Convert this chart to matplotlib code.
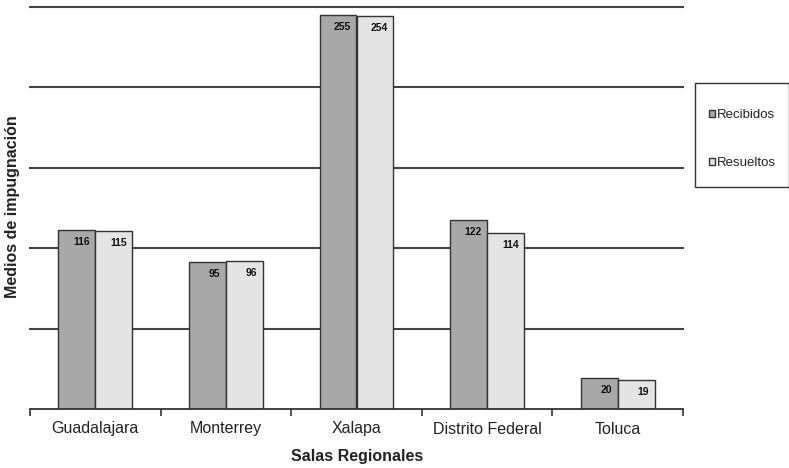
import matplotlib.pyplot as plt
from matplotlib.patches import Rectangle
import numpy as np

plt.rcParams['font.family'] = ['Liberation Sans', 'DejaVu Sans']

salas = ['Guadalajara', 'Monterrey', 'Xalapa', 'Distrito Federal', 'Toluca']
recibidos = [116, 95, 255, 122, 20]
resueltos = [115, 96, 254, 114, 19]

W, H = 789, 468
fig = plt.figure(figsize=(W / 100, H / 100), dpi=100)
# axes box in pixels: left 30, right 683, top 7, bottom 409
ax = fig.add_axes([30 / W, 1 - 409 / H, (683 - 30) / W, (409 - 7) / H])

x = np.arange(len(salas))
bw = 0.283
ymax = 260

ax.set_xlim(-0.5, len(salas) - 0.5)
ax.set_ylim(0, ymax)

for yg in np.linspace(ymax / 5, ymax, 5):
    ax.axhline(yg, color='#444444', lw=1.5, zorder=1, clip_on=False)

b1 = ax.bar(x - bw / 2, recibidos, bw, color='#a8a8a8', edgecolor='#333333',
            lw=1.0, zorder=2, label='Recibidos')
b2 = ax.bar(x + bw / 2, resueltos, bw, color='#e4e4e4', edgecolor='#333333',
            lw=1.0, zorder=2, label='Resueltos')

for bars, vals in ((b1, recibidos), (b2, resueltos)):
    for rect, v in zip(bars, vals):
        ax.annotate(str(v), (rect.get_x() + rect.get_width(), v),
                    xytext=(-4, -5), textcoords='offset points',
                    ha='right', va='top', fontsize=7.5, fontweight='bold',
                    color='#111111', zorder=3)

for s in ('left', 'right', 'top'):
    ax.spines[s].set_visible(False)
ax.spines['bottom'].set_color('#333333')
ax.spines['bottom'].set_linewidth(1.3)
ax.spines['bottom'].set_zorder(4)

ax.set_yticks([])
ax.set_xticks(x)
ax.set_xticklabels(salas, fontsize=11.5, color='#222222')
ax.tick_params(axis='x', which='major', length=0, pad=9)
ax.set_xticks(np.arange(-0.5, len(salas)), minor=True)
ax.tick_params(axis='x', which='minor', length=5, width=1.2, color='#333333')

fig.text(357 / W, 1 - 457 / H, 'Salas Regionales', ha='center', va='center',
         fontsize=11.5, fontweight='bold', color='#222222')
fig.text(13 / W, 1 - 207 / H, 'Medios de impugnación', ha='center', va='center',
         rotation=90, fontsize=11.5, fontweight='bold', color='#222222')

# legend box
fig.patches.append(Rectangle((695 / W, 1 - 187 / H), (789 - 695) / W, (187 - 83) / H,
                             transform=fig.transFigure, fill=False,
                             edgecolor='#333333', lw=1.0))
leg = fig.legend(handles=[b1, b2], loc='upper left',
                 bbox_to_anchor=(709 / W, 1 - 109 / H), fontsize=9.5,
                 frameon=False, handlelength=0.45, handleheight=0.45,
                 handletextpad=0.15, labelspacing=2.75, borderpad=0,
                 borderaxespad=0)
for t in leg.get_texts():
    t.set_color('#222222')

fig.savefig('out.png', dpi=100)
